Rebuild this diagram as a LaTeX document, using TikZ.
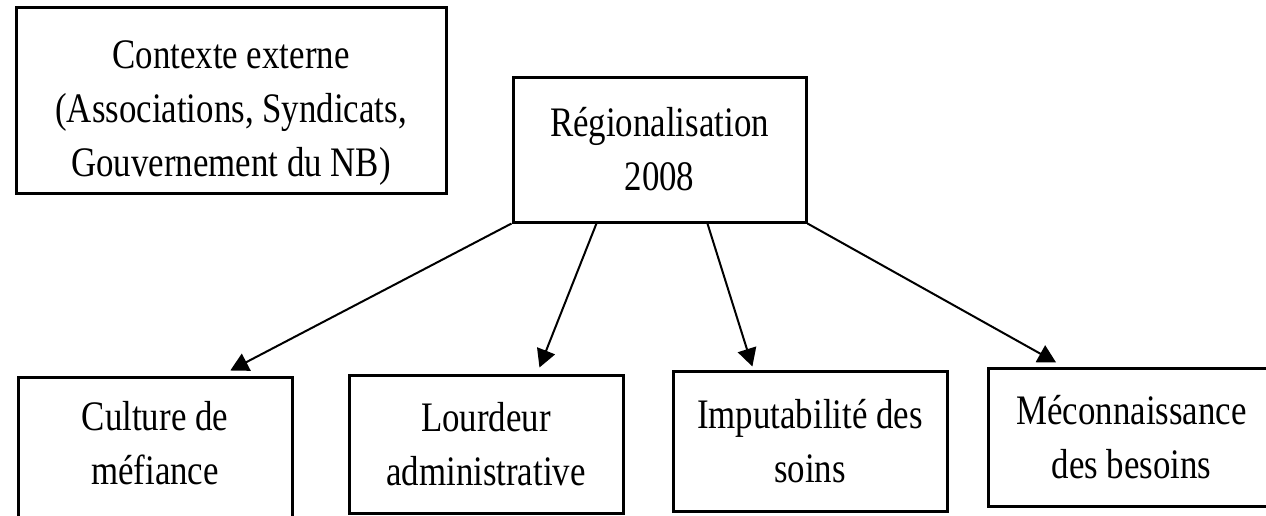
\documentclass[tikz,border=0pt]{standalone}
\usepackage{fontspec}
\setmainfont{Liberation Serif}[FakeStretch=0.83]
\usetikzlibrary{arrows.meta,calc}
\begin{document}
\begin{tikzpicture}[x=0.5pt,y=-0.5pt,
  box/.style={draw, line width=1.5pt, align=center, font=\fontsize{21}{27}\selectfont, inner sep=0pt},
  link/.style={line width=1pt, -{Triangle[length=9pt,width=9.5pt]}}]
\clip (0,0) rectangle (1266,515);
\fill[white] (0,0) rectangle (1266,515);
\node[box, minimum width=215pt, minimum height=93pt] (ctx) at (231,100)
  {\rule{0pt}{27.3pt}Contexte externe\\(Associations, Syndicats,\\Gouvernement du NB)};
\node[box, minimum width=146.5pt, minimum height=72.5pt] (reg) at (659.5,149.5)
  {Régionalisation\\2008};
\node[box, minimum width=137pt, minimum height=84pt] (cul) at (155,461)
  {Culture de\\méfiance\rule[-18pt]{0pt}{18pt}};
\node[box, minimum width=137pt, minimum height=69pt] (lou) at (486,444)
  {Lourdeur\\administrative};
\node[box, minimum width=137pt, minimum height=70pt] (imp) at (810,441)
  {Imputabilité des\\soins};
\node[box, minimum width=143.5pt, minimum height=69pt] (mec) at (1131.5,437)
  {Méconnaissance\\des besoins};
\draw[link] (reg.south west) -- ($(cul.north west)!0.772!(cul.north east)+(0,2.5pt)$);
\draw[link] ($(reg.south west)!0.287!(reg.south east)$) -- ($(lou.north west)!0.693!(lou.north east)+(0,3pt)$);
\draw[link] ($(reg.south west)!0.662!(reg.south east)$) -- ($(imp.north west)!0.292!(imp.north east)+(0,1.5pt)$);
\draw[link] (reg.south east) -- ($(mec.north west)!0.24!(mec.north east)+(0,2pt)$);
\end{tikzpicture}
\end{document}
